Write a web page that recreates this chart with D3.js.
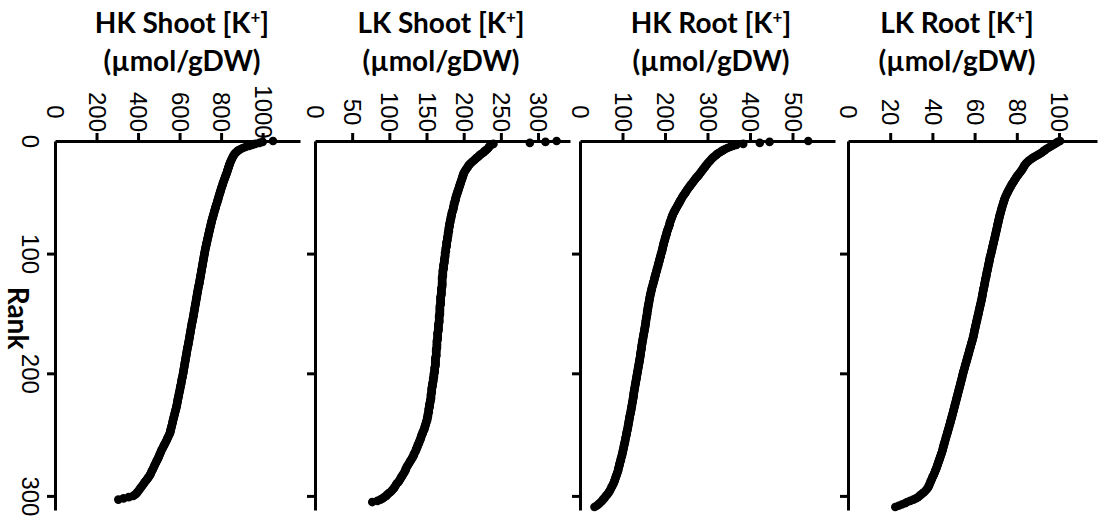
<!DOCTYPE html>
<html>
<head>
<meta charset="utf-8">
<script src="https://cdn.jsdelivr.net/npm/d3@7"></script>
<style>
  body { margin: 0; background: #fff; }
  .domain, .tick line { stroke: #000; stroke-width: 3; }
  .tick text { fill: #000; }
  .title { font-family: Lato, "Open Sans", sans-serif; font-weight: 700; font-size: 28px; fill: #000; }
</style>
</head>
<body>
<svg id="chart" width="1103" height="527"></svg>
<script>
// sorted values, index = rank
var hkShoot = [1050,1000,985,965,950,935,918,905,895,885,878,873,868,864,860,857,855,852,850,847,845,
  843,841,839,837,836,834,832,830,829,827,
  825,823,821,819,817,815,813,811,809,808,806,804,802,800,799,797,795,
  794,792,790,789,787,786,784,782,781,779,777,775,774,772,771,769,767,766,764,763,761,760,758,756,755,
  754,752,751,750,748,747,746,744,743,742,740,739,738,737,735,734,733,732,730,729,728,727,725,724,723,
  722,721,720,719,718,717,716,715,714,713,712,711,710,709,708,707,706,705,704,703,702,701,700,699,698,697,696,695,694,692,691,
  690,689,688,687,686,685,684,683,682,681,680,679,678,677,676,675,674,673,672,671,670,669,668,667,666,665,664,663,662,660,659,
  658,657,656,655,654,653,652,651,650,649,648,647,646,645,644,643,642,641,639,638,637,636,635,634,633,632,631,630,629,628,627,626,625,624,623,622,621,620,619,618,
  617,616,615,614,612,611,610,609,608,607,605,604,603,602,601,600,598,597,596,595,594,592,591,590,589,588,587,586,
  584,583,581,580,578,577,575,574,572,571,569,568,567,565,564,562,561,559,558,556,555,554,
  551,548,545,542,540,537,534,531,528,525,522,519,516,513,510,508,505,503,500,498,
  495,492,489,486,483,480,478,475,472,469,466,463,461,458,
  454,450,446,441,437,432,428,424,419,415,410,
  406,401,397,392,386,377,355,330,305];

var lkShoot = [325,310,289,240,237,235,234,233,232,230,228,227,225,223,221,220,218,
  216,215,213,211,210,208,207,206,205,204,203,202,201,200,
  200,199,199,198,198,197,197,196,196,195,195,194,194,193,193,192,192,191,191,190,
  190,189,189,189,188,188,187,187,187,186,186,186,185,185,184,184,184,183,183,183,182,182,182,181,181,181,181,180,180,180,
  180,179,179,179,179,178,178,178,178,177,177,177,177,177,176,176,176,176,175,175,
  175,175,175,174,174,174,174,174,173,173,173,173,173,172,172,172,172,172,172,171,
  171,171,171,171,171,171,171,171,
  170,170,170,170,170,170,170,169,169,169,169,169,169,169,169,168,168,168,168,168,
  168,168,168,167,167,167,167,167,167,167,166,166,166,166,166,166,166,165,165,165,
  165,165,165,165,164,164,164,164,164,164,164,163,163,163,163,163,163,163,162,162,
  162,162,162,162,162,162,161,161,
  161,161,161,160,160,160,160,159,159,159,159,158,158,158,158,157,157,157,157,157,156,156,156,156,156,
  155,155,155,154,154,154,154,153,153,153,153,152,152,152,151,151,151,
  150,150,149,149,148,148,147,147,146,145,145,144,143,143,142,142,141,
  140,140,139,138,138,137,136,136,135,134,133,133,132,131,130,129,128,
  127,126,125,124,123,122,122,121,120,119,118,117,116,115,114,
  113,112,110,109,108,107,106,104,103,101,
  99,97,96,93,91,88,84,77];

var hkRoot = [537,446,423,384,368,360,353,347,342,337,
  333,329,325,322,319,316,313,310,308,306,
  303,301,299,297,295,293,291,289,287,285,283,281,279,277,274,272,
  270,268,266,264,262,260,258,256,254,252,250,249,247,245,243,241,240,
  238,237,235,234,232,231,229,228,226,225,223,222,220,219,218,217,216,
  215,214,213,212,211,211,210,209,208,207,206,205,204,204,203,202,201,200,200,199,198,197,197,196,195,195,
  194,193,193,192,191,190,190,189,188,187,187,186,185,184,184,183,182,181,181,180,179,178,178,177,176,
  175,175,174,173,172,172,171,170,169,169,168,167,167,166,165,165,164,
  164,163,163,162,162,161,161,160,160,159,159,158,158,158,157,157,156,156,155,155,155,154,154,153,153,
  152,152,151,151,150,150,149,149,148,148,147,147,146,146,145,145,145,144,144,143,143,142,142,142,141,141,
  140,140,139,139,138,138,137,137,136,136,135,135,134,134,133,133,132,132,131,131,130,130,129,129,128,128,127,127,126,126,126,125,125,
  124,124,123,123,122,122,121,121,120,120,119,119,118,117,117,116,116,115,115,114,114,113,113,112,112,111,
  110,110,109,109,108,107,107,106,106,105,104,104,103,103,102,101,101,
  100,99,99,98,97,96,96,95,94,93,93,92,91,90,90,89,
  88,87,86,85,84,83,82,81,80,
  79,77,76,74,73,71,70,68,
  66,64,61,59,57,54,
  52,49,46,43,39,34];

var lkRoot = [100.5,99.5,98.8,98.0,97.2,96.4,95.6,94.8,94.0,93.3,
  92.6,92.0,91.3,90.4,89.5,88.6,87.8,87.0,86.3,85.6,
  85.0,84.5,84.1,83.7,83.4,83.1,82.8,82.5,
  82.1,81.7,81.3,80.9,80.5,80.1,79.7,79.4,79.0,78.7,78.4,78.0,77.7,
  77.4,77.1,76.8,76.5,76.2,75.9,75.7,75.4,75.1,74.9,74.6,74.4,
  74.2,74.0,73.9,73.7,73.5,73.4,73.2,73.0,72.9,72.7,72.6,72.4,72.3,72.1,72.0,71.8,71.7,71.6,71.4,71.3,71.2,71.1,70.9,70.8,70.7,70.6,
  70.5,70.3,70.2,70.1,70.0,69.8,69.7,69.6,69.5,69.3,69.2,69.1,68.9,68.8,68.7,68.5,68.4,68.3,68.2,68.0,67.9,67.8,67.6,67.5,67.3,
  67.2,67.1,67.0,66.9,66.8,66.6,66.5,66.4,66.3,66.2,66.1,65.9,65.8,65.7,65.6,65.5,65.4,65.2,65.1,65.0,
  64.9,64.8,64.7,64.6,64.5,64.3,64.2,64.1,64.0,63.9,63.8,63.7,63.6,63.5,
  63.4,63.3,63.1,63.0,62.9,62.8,62.6,62.5,62.4,62.2,62.1,62.0,61.9,61.7,61.6,61.5,61.3,61.2,61.1,60.9,
  60.8,60.7,60.6,60.4,60.3,60.2,60.0,59.9,59.8,59.7,59.6,59.5,59.3,59.2,
  59.0,58.9,58.7,58.5,58.4,58.2,58.1,57.9,57.7,57.6,57.4,57.3,57.1,56.9,56.8,56.6,56.5,56.3,56.1,56.0,
  55.8,55.6,55.5,55.3,55.2,55.0,54.8,54.7,54.5,54.4,54.2,54.1,54.0,
  53.8,53.7,53.5,53.4,53.2,53.1,52.9,52.8,52.6,52.5,52.3,52.2,52.0,51.9,51.7,51.6,51.4,51.3,51.1,51.0,
  50.8,50.7,50.5,50.4,50.2,50.1,49.9,49.8,49.6,49.5,49.3,49.2,49.0,48.8,
  48.7,48.5,48.4,48.2,48.0,47.9,47.7,47.5,47.4,47.2,47.0,46.9,46.7,46.5,46.4,46.2,46.0,45.9,45.7,45.5,
  45.4,45.2,45.1,44.9,44.8,44.6,
  44.4,44.2,44.0,43.8,43.6,43.4,43.2,43.0,42.8,42.6,42.4,42.2,42.0,41.8,41.5,41.3,
  41.1,40.8,40.6,40.3,40.0,39.8,39.5,39.3,39.0,38.8,38.5,38.3,38.0,
  37.6,37.1,36.6,36.0,35.3,34.6,33.9,33.2,
  32.2,31.0,29.5,28.0,27.0,25.5,24.0,22.4];

var series = [hkShoot, lkShoot, hkRoot, lkRoot];
var titles = ["HK Shoot", "LK Shoot", "HK Root", "LK Root"];
var xTicks = [[0,200,400,600,800,1000],[0,50,100,150,200,250,300],[0,100,200,300,400,500],[0,20,40,60,80,100]];
var xMax = [1180, 343, 600, 118];
var rankTicks = [0,100,200,300];

// layout
var axisY = 141, axisEnd = 510, labelY = 112, rankLabelX = 30;
var panelRange = [[55,300],[315,570],[580,835],[848,1097]];
var titleX = [182,441,711,957];
var tickFont = "'Liberation Sans', Arial, sans-serif";

var svg = d3.select("#chart");

var y = d3.scalePow().exponent(1.045)
  .domain([0, 311.4])
  .range([axisY, axisEnd]);

series.forEach(function(vals, i) {
  var x = d3.scaleLinear().domain([0, xMax[i]]).range(panelRange[i]);
  var g = svg.append("g").attr("class", "panel");

  // value axis on top
  var xa = g.append("g")
    .attr("transform", "translate(0," + axisY + ")")
    .call(d3.axisTop(x).tickValues(xTicks[i]).tickFormat(d3.format("d"))
      .tickSize(8).tickSizeOuter(0))
    .attr("font-family", tickFont)
    .attr("font-size", 24);
  xa.selectAll(".tick line").filter(function(d){ return d === 0; }).remove();
  xa.selectAll(".tick text")
    .attr("y", 0)
    .attr("dy", "0.35em")
    .attr("transform", "translate(0," + (labelY - axisY) + ") rotate(90)");

  // rank axis on left
  var ya = g.append("g")
    .attr("transform", "translate(" + x(0) + ",0)")
    .call(d3.axisLeft(y).tickValues(rankTicks).tickSize(8).tickSizeOuter(0))
    .attr("text-anchor", "middle")
    .attr("font-family", tickFont)
    .attr("font-size", 24);
  ya.selectAll(".tick line").filter(function(d){ return d === 0; }).remove();
  if (i > 0) {
    ya.selectAll(".tick text").remove();
  } else {
    ya.selectAll(".tick text")
      .attr("x", 0)
      .attr("dy", "0.35em")
      .attr("transform", "translate(" + (rankLabelX - x(0)) + ",0) rotate(90)");
  }

  // dots
  g.append("g").selectAll("circle")
    .data(vals)
    .join("circle")
    .attr("cx", function(d){ return x(d); })
    .attr("cy", function(d, r){ return y(r); })
    .attr("r", 4.3)
    .attr("fill", "#000");

  // title
  var t = g.append("text").attr("class", "title")
    .attr("text-anchor", "middle")
    .attr("x", titleX[i]).attr("y", 33);
  t.append("tspan").text(titles[i] + " [K");
  t.append("tspan").attr("font-size", "17px").attr("dy", -10).text("+");
  t.append("tspan").attr("dy", 10).text("]");
  g.append("text").attr("class", "title")
    .attr("text-anchor", "middle")
    .attr("x", titleX[i]).attr("y", 71)
    .text("(µmol/gDW)");
});

svg.append("text").attr("class", "title")
  .attr("text-anchor", "middle")
  .attr("dy", "0.28em")
  .attr("font-size", "26px")
  .attr("transform", "translate(16,318) rotate(90)")
  .text("Rank");
</script>
</body>
</html>
